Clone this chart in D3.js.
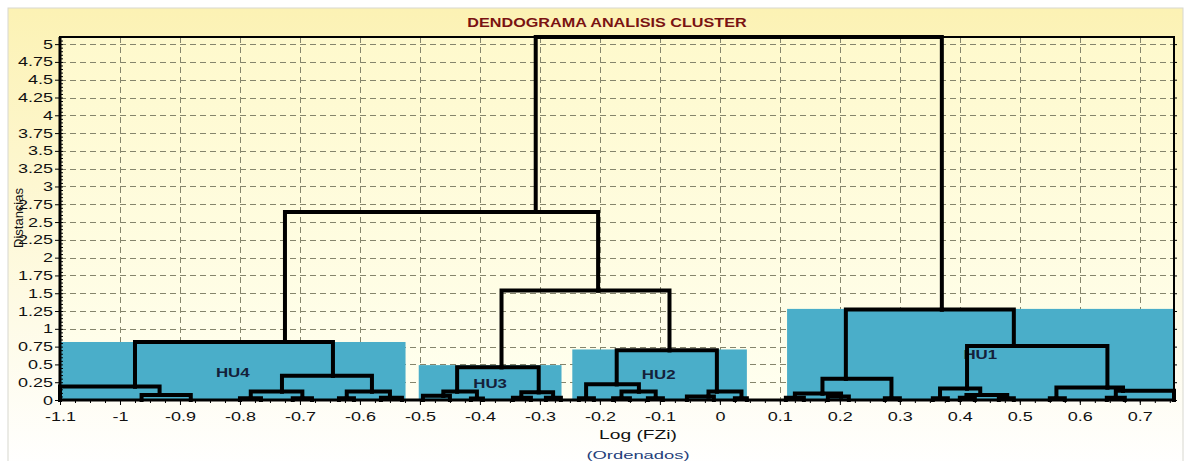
<!DOCTYPE html>
<html>
<head>
<meta charset="utf-8">
<script src="https://cdn.jsdelivr.net/npm/d3@7"></script>
<style>
  body { margin: 0; background: #fff; }
  svg text { font-family: "Liberation Sans", Arial, sans-serif; }
</style>
</head>
<body>
<svg id="chart" width="1188" height="461"></svg>
<script>
// cluster boxes (HU = hydraulic units)
const clusterNames = ["HU4", "HU3", "HU2", "HU1"]
const clusterX0 = [-1.1, -0.502, -0.246, 0.112]
const clusterX1 = [-0.524, -0.264, 0.045, 0.757]
const clusterTop = [0.815, 0.49, 0.71, 1.28]
const labelX = [-0.812, -0.383, -0.102, 0.434]
const labelY = [0.39, 0.24, 0.36, 0.64]

// merges: [name, log FZi position, distance, left child, right child]
// a number as child means a single sample (leaf, distance 0)
const merges = [
    ["root", 0.03, 5.1, "L", "HU1"],
    ["L", -0.307, 2.64, "HU4", "R2"],
    ["HU4", -0.725, 0.815, "A", "C"],
    ["A", -0.975, 0.19, -1.1, "B"],
    ["B", -0.934, 0.07, -0.964, -0.882],
    ["C", -0.645, 0.34, "D", "F"],
    ["D", -0.73, 0.12, "D1", "D2"],
    ["D1", -0.782, 0.025, -0.8, -0.765],
    ["D2", -0.696, 0.025, -0.712, -0.68],
    ["F", -0.58, 0.12, "F1", "F2"],
    ["F1", -0.622, 0.025, -0.635, -0.61],
    ["F2", -0.55, 0.03, -0.565, -0.53],
    ["R2", -0.203, 1.54, "HU3", "HU2"],
    ["HU3", -0.364, 0.46, "G", "H"],
    ["G", -0.438, 0.12, "G1", "G2"],
    ["G1", -0.461, 0.06, -0.495, -0.45],
    ["G2", -0.405, 0.02, -0.415, -0.395],
    ["H", -0.302, 0.11, "H1", "H2"],
    ["H1", -0.331, 0.03, -0.345, -0.315],
    ["H2", -0.278, 0.03, -0.29, -0.265],
    ["HU2", -0.084, 0.7, "I", "K"],
    ["I", -0.172, 0.22, "I1", "J"],
    ["I1", -0.223, 0.025, -0.235, -0.21],
    ["J", -0.135, 0.12, "J1", "J2"],
    ["J1", -0.164, 0.025, -0.178, -0.15],
    ["J2", -0.107, 0.025, -0.12, -0.095],
    ["K", -0.005, 0.12, "K1", "K2"],
    ["K1", -0.019, 0.05, -0.055, -0.01],
    ["K2", 0.036, 0.025, 0.025, 0.045],
    ["HU1", 0.37, 1.27, "M", "R"],
    ["M", 0.21, 0.3, "N", "M2"],
    ["N", 0.171, 0.09, "N1", "N2"],
    ["N1", 0.125, 0.03, 0.11, 0.14],
    ["N2", 0.202, 0.05, 0.18, 0.215],
    ["M2", 0.286, 0.025, 0.275, 0.3],
    ["R", 0.49, 0.76, "S", "U"],
    ["S", 0.412, 0.16, "S1", "T"],
    ["S1", 0.367, 0.025, 0.355, 0.38],
    ["T", 0.434, 0.07, "T1", "T2"],
    ["T1", 0.411, 0.03, 0.4, 0.425],
    ["T2", 0.479, 0.025, 0.465, 0.49],
    ["U", 0.646, 0.177, "U1", "V"],
    ["U1", 0.561, 0.025, 0.55, 0.575],
    ["V", 0.672, 0.13, "V1", 0.757],
    ["V1", 0.66, 0.03, 0.645, 0.675]
]

const xTicks = d3.range(-11, 8).map(d => d / 10)
const yTicks = d3.range(0, 21).map(d => d / 4)

const svg = d3.select("#chart")
const pLeft = 60, pRight = 1174, pTop = 37, pBottom = 400
const stretch = 1.5

const x = d3.scaleLinear().domain([-1.1, 0.757]).range([pLeft, pRight])
const y = d3.scaleLinear().domain([0, 5.1]).range([pBottom, pTop])
const fmt = d => String(d)

// backgrounds
const defs = svg.append("defs")
const g1 = defs.append("linearGradient").attr("id", "panelbg").attr("x1", 0).attr("y1", 0).attr("x2", 0).attr("y2", 1)
g1.append("stop").attr("offset", "0%").attr("stop-color", "#fcf2b4")
g1.append("stop").attr("offset", "100%").attr("stop-color", "#ffffff")
const g2 = defs.append("linearGradient").attr("id", "plotbg").attr("x1", 0).attr("y1", 0).attr("x2", 0).attr("y2", 1)
g2.append("stop").attr("offset", "0%").attr("stop-color", "#fef9cc")
g2.append("stop").attr("offset", "100%").attr("stop-color", "#fffff0")

svg.append("rect")
    .attr("x", 8).attr("y", 8).attr("width", 1175).attr("height", 460)
    .attr("fill", "url(#panelbg)")
    .attr("stroke", "#d8d8d0")
svg.append("rect")
    .attr("x", pLeft).attr("y", pTop).attr("width", pRight - pLeft).attr("height", pBottom - pTop)
    .attr("fill", "url(#plotbg)")

// title
svg.append("text")
    .attr("transform", `translate(${607},${27}) scale(1.35,1)`)
    .attr("text-anchor", "middle")
    .attr("font-size", 12)
    .attr("font-weight", "bold")
    .attr("fill", "#7a1212")
    .text("DENDOGRAMA ANALISIS CLUSTER")

// grid
const grid = svg.append("g")
    .attr("stroke", "#85856c")
    .attr("stroke-width", 1)
    .attr("stroke-dasharray", "6,4")
grid.selectAll(".vg")
    .data(xTicks.filter(d => d > -1.1)).enter()
    .append("line")
    .attr("x1", d => Math.round(x(d)) + 0.5).attr("x2", d => Math.round(x(d)) + 0.5)
    .attr("y1", pTop).attr("y2", pBottom)
grid.selectAll(".hg")
    .data(yTicks.filter(d => d > 0)).enter()
    .append("line")
    .attr("y1", d => Math.round(y(d)) + 0.5).attr("y2", d => Math.round(y(d)) + 0.5)
    .attr("x1", pLeft).attr("x2", pRight)

// cluster boxes
svg.append("g").selectAll("rect")
    .data(clusterNames).enter()
    .append("rect")
    .attr("x", (d, i) => x(clusterX0[i]))
    .attr("width", (d, i) => x(clusterX1[i]) - x(clusterX0[i]))
    .attr("y", (d, i) => y(clusterTop[i]))
    .attr("height", (d, i) => y(0) - y(clusterTop[i]))
    .attr("fill", "#4aaec9")

svg.append("g").selectAll("text")
    .data(clusterNames).enter()
    .append("text")
    .attr("transform", (d, i) => `translate(${x(labelX[i])},${y(labelY[i]) + 5}) scale(1.35,1)`)
    .attr("text-anchor", "middle")
    .attr("font-size", 12.5)
    .attr("font-weight", "bold")
    .attr("fill", "#14213a")
    .text(d => d)

// build the tree from the merge table
const byName = new Map(merges.map(m => [m[0], m]))
const toNode = ref => {
    if (typeof ref === "number") return {x: ref, h: 0}
    const m = byName.get(ref)
    return {name: m[0], x: m[1], h: m[2], children: [toNode(m[3]), toNode(m[4])]}
}
const root = d3.hierarchy(toNode("root"))

svg.append("g")
    .selectAll("path")
    .data(root.links()).enter()
    .append("path")
    .attr("d", l => `M${x(l.target.data.x)},${y(l.target.data.h)}V${y(l.source.data.h)}H${x(l.source.data.x)}`)
    .attr("fill", "none")
    .attr("stroke", "#000")
    .attr("stroke-width", 4)
    .attr("stroke-linejoin", "miter")
    .attr("stroke-linecap", "square")

// axes
const xMinor = svg.append("g")
    .attr("transform", `translate(0,${pBottom})`)
    .call(d3.axisBottom(x).tickValues(d3.range(-44, 31).map(d => d / 40)).tickSize(3).tickFormat(""))
xMinor.select(".domain").remove()

const xAxis = svg.append("g")
    .attr("transform", `translate(0,${pBottom})`)
    .call(d3.axisBottom(x).tickValues(xTicks).tickSize(5).tickFormat(fmt))
xAxis.select(".domain").remove()
xAxis.selectAll("text")
    .attr("font-size", 12)
    .attr("fill", "#111")
    .attr("y", 0)
    .attr("dy", 0)
    .attr("transform", `translate(0,21) scale(${stretch},1)`)

const yMinor = svg.append("g")
    .attr("transform", `translate(${pLeft},0)`)
    .call(d3.axisRight(y).tickValues(d3.range(0, 103).map(d => d / 20)).tickSize(3).tickFormat(""))
yMinor.select(".domain").remove()

const yAxis = svg.append("g")
    .attr("transform", `translate(${pLeft},0)`)
    .call(d3.axisLeft(y).tickValues(yTicks).tickSize(5).tickFormat(fmt))
yAxis.select(".domain").remove()
yAxis.selectAll("text")
    .attr("font-size", 12)
    .attr("fill", "#111")
    .attr("x", 0)
    .attr("dy", 0)
    .attr("transform", `translate(-7,4) scale(${stretch},1)`)

const yRight = svg.append("g")
    .attr("transform", `translate(${pRight},0)`)
    .call(d3.axisRight(y).tickValues(yTicks).tickSize(3).tickFormat(""))
yRight.select(".domain").remove()

// plot frame
svg.append("rect")
    .attr("x", pLeft).attr("y", pTop).attr("width", pRight - pLeft).attr("height", pBottom - pTop)
    .attr("fill", "none").attr("stroke", "#000").attr("stroke-width", 2)
svg.append("path")
    .attr("d", `M${pLeft},${pTop}V${pBottom}H${pRight}`)
    .attr("fill", "none").attr("stroke", "#000").attr("stroke-width", 3)

// axis titles
svg.append("text")
    .attr("transform", `translate(${23},${218}) rotate(-90)`)
    .attr("text-anchor", "middle")
    .attr("font-size", 13)
    .attr("fill", "#111")
    .text("Distancias")

svg.append("text")
    .attr("transform", `translate(${638},${439}) scale(1.6,1)`)
    .attr("text-anchor", "middle")
    .attr("font-size", 12)
    .attr("fill", "#111")
    .text("Log (FZi)")

svg.append("text")
    .attr("transform", `translate(${638},${459}) scale(1.6,1)`)
    .attr("text-anchor", "middle")
    .attr("font-size", 11.5)
    .attr("fill", "#24407a")
    .text("(Ordenados)")
</script>
</body>
</html>
